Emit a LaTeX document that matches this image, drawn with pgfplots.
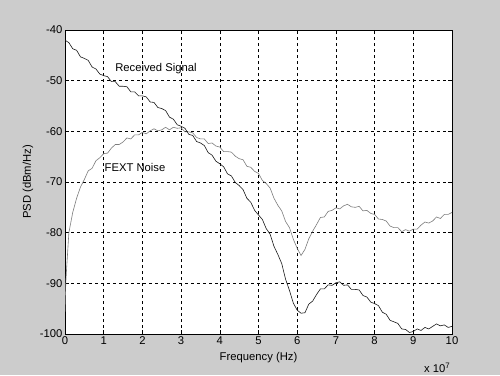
\documentclass[border=0pt]{standalone}
\usepackage{pgfplots}
\pgfplotsset{compat=1.18}
\usepackage{fontspec}
\setmainfont{Liberation Sans}
\definecolor{bgc}{RGB}{204,204,204}
\definecolor{sigc}{RGB}{25,25,25}
\definecolor{noic}{RGB}{125,125,125}
\begin{document}
\begin{tikzpicture}
\fill[bgc] (0,0) rectangle (500bp,375bp);
\begin{axis}[
  at={(65bp,41bp)}, anchor=south west,
  scale only axis, width=387bp, height=304bp,
  xmin=0, xmax=10, ymin=-100, ymax=-40,
  xtick={0,1,...,10}, ytick={-100,-90,...,-40},
  xticklabels={0,1,2,3,4,5,6,7,8,9,10},
  yticklabels={-100,-90,-80,-70,-60,-50,-40},
  tick align=inside, major tick length=4bp,
  tick style={black, line width=0.5pt},
  axis line style={black, line width=0.8pt},
  axis background/.style={fill=white},
  grid=major,
  major grid style={black, line width=0.5pt, dash pattern=on 3bp off 3bp},
  font=\fontsize{11.3}{13}\selectfont,
  ticklabel style={font=\fontsize{11.3}{13}\selectfont},
  xticklabel style={yshift=1bp},
  yticklabel style={xshift=1bp},
  xlabel={Frequency (Hz)},
  ylabel={PSD (dBm/Hz)},
  xlabel style={at={(axis description cs:0.5,-0.079)}, anchor=center},
  ylabel style={at={(axis description cs:-0.096,0.5)}, anchor=center},
  clip mode=individual,
]
\addplot[sigc, line width=0.6pt] coordinates {
(0,-42.0)(0.1,-42.5)(0.2,-43.7)(0.3,-44.0)(0.4,-45.3)(0.5,-45.6)(0.6,-46.0)(0.7,-47.3)(0.8,-47.7)(0.9,-48.7)
(1.0,-49.0)(1.1,-49.2)(1.2,-50.2)(1.3,-50.2)(1.4,-51.1)(1.5,-51.1)(1.6,-51.2)(1.7,-52.2)(1.8,-52.2)(1.9,-53.0)
(2.0,-53.0)(2.1,-53.2)(2.2,-54.2)(2.3,-54.3)(2.4,-55.3)(2.5,-55.5)(2.6,-55.9)(2.7,-57.2)(2.8,-57.6)(2.9,-58.7)
(3.0,-59.0)(3.1,-59.4)(3.2,-60.6)(3.3,-60.8)(3.4,-62.0)(3.5,-62.3)(3.6,-62.8)(3.7,-64.2)(3.8,-64.7)(3.9,-65.9)
(4.0,-66.4)(4.1,-67.0)(4.2,-68.4)(4.3,-68.8)(4.4,-70.1)(4.5,-70.7)(4.6,-71.5)(4.7,-73.2)(4.8,-74.0)(4.9,-75.6)
(5.0,-76.5)(5.1,-77.4)(5.2,-79.2)(5.3,-80.3)(5.4,-82.7)(5.5,-84.3)(5.6,-86.1)(5.7,-89.2)(5.8,-91.4)(5.9,-93.9)
(6.0,-95.3)(6.1,-95.9)(6.2,-95.8)(6.3,-94.1)(6.4,-93.5)(6.5,-92.2)(6.6,-91.1)(6.7,-91.1)(6.8,-90.3)(6.9,-90.4)
(7.0,-89.9)(7.1,-89.7)(7.2,-90.4)(7.3,-90.3)(7.4,-91.2)(7.5,-91.2)(7.6,-91.3)(7.7,-92.4)(7.8,-92.7)(7.9,-93.7)
(8.0,-94.0)(8.1,-94.4)(8.2,-95.7)(8.3,-96.1)(8.4,-97.3)(8.5,-97.6)(8.6,-97.9)(8.7,-99.0)(8.8,-99.1)(8.9,-99.7)
(9.0,-99.5)(9.1,-99.0)(9.2,-99.3)(9.3,-98.7)(9.4,-99.0)(9.5,-98.5)(9.6,-98.0)(9.7,-98.4)(9.8,-98.2)(9.9,-98.7)
(10,-98.5)
};
\addplot[noic, line width=0.6pt] coordinates {
(0,-95.6)(0.02,-90)(0.04,-87.3)(0.1,-80.0)(0.2,-76.0)(0.3,-73.2)(0.4,-71.0)(0.5,-69.5)(0.6,-67.8)(0.7,-67.3)(0.8,-65.8)(0.9,-65.2)
(1.0,-64.4)(1.1,-64.3)(1.2,-63.3)(1.3,-62.6)(1.4,-62.6)(1.5,-62.1)(1.6,-61.3)(1.7,-61.5)(1.8,-60.7)(1.9,-60.7)
(2.0,-60.2)(2.1,-60.5)(2.2,-59.9)(2.3,-59.5)(2.4,-59.9)(2.5,-59.7)(2.6,-59.2)(2.7,-59.7)(2.8,-59.2)(2.9,-59.4)
(3.0,-59.3)(3.1,-60.1)(3.2,-60.1)(3.3,-60.3)(3.4,-61.2)(3.5,-61.5)(3.6,-61.5)(3.7,-62.4)(3.8,-62.3)(3.9,-62.9)
(4.0,-63.1)(4.1,-64.0)(4.2,-64.0)(4.3,-64.1)(4.4,-64.9)(4.5,-65.4)(4.6,-65.6)(4.7,-66.9)(4.8,-67.1)(4.9,-67.9)
(5.0,-68.3)(5.1,-69.7)(5.2,-70.3)(5.3,-71.2)(5.4,-73.2)(5.5,-74.6)(5.6,-75.7)(5.7,-77.8)(5.8,-79.0)(5.9,-81.3)
(6.0,-83.1)(6.1,-84.5)(6.2,-83.3)(6.3,-81.2)(6.4,-79.7)(6.5,-78.4)(6.6,-77.0)(6.7,-76.9)(6.8,-75.8)(6.9,-75.6)
(7.0,-75.1)(7.1,-75.3)(7.2,-74.7)(7.3,-74.4)(7.4,-74.9)(7.5,-75.0)(7.6,-74.8)(7.7,-75.7)(7.8,-75.6)(7.9,-76.2)
(8.0,-76.4)(8.1,-77.3)(8.2,-77.4)(8.3,-77.7)(8.4,-78.7)(8.5,-79.0)(8.6,-79.0)(8.7,-79.8)(8.8,-79.4)(8.9,-79.7)
(9.0,-79.3)(9.1,-79.3)(9.2,-78.5)(9.3,-77.9)(9.4,-78.1)(9.5,-77.7)(9.6,-76.9)(9.7,-77.2)(9.8,-76.4)(9.9,-76.4)
(10,-76.0)
};
\node[font=\fontsize{11.3}{13}\selectfont] at (axis cs:2.35,-47.6) {Received Signal};
\node[font=\fontsize{11.3}{13}\selectfont] at (axis cs:1.81,-67.1) {FEXT Noise};
\node[font=\fontsize{11.3}{13}\selectfont] at (axis description cs:0.962,-0.11) {x 10\textsuperscript{7}};
\end{axis}
\end{tikzpicture}
\end{document}
